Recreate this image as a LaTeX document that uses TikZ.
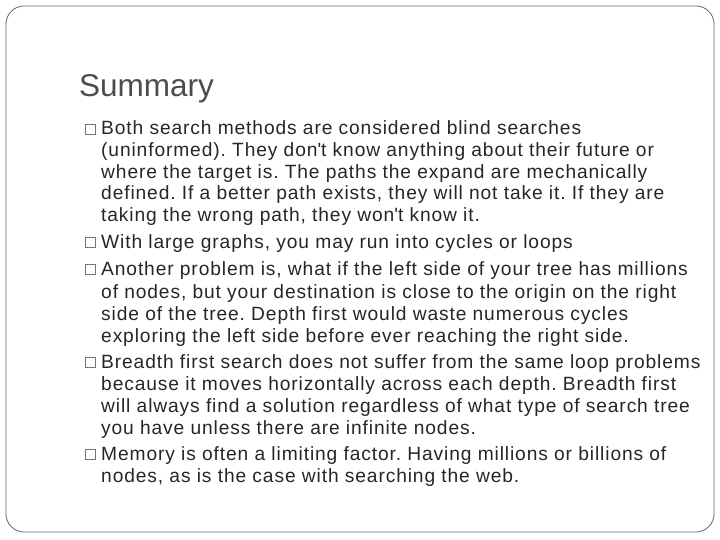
\documentclass[tikz,border=0pt]{standalone}
\usepackage{fontspec}
\setmainfont{Liberation Sans}
\newfontfamily\bodyfont[LetterSpace=4.6]{Liberation Sans}
\begin{document}
\frenchspacing
\begin{tikzpicture}[x=1pt,y=-1pt,
  ln/.style={anchor=base west,inner sep=0pt,font=\bodyfont\fontsize{19.2}{20}\selectfont,text=black!85},
  bx/.style={draw=black!55,line width=0.6pt,minimum size=10pt,inner sep=0pt}]
\useasboundingbox (0,0) rectangle (720,540);
\draw[black!60,line width=0.8pt,rounded corners=18pt] (6,6) rectangle (714,532);
\node[anchor=base west,inner sep=0pt,font=\fontsize{31.5}{32}\selectfont,text=black!70] (title) at (79,97) {Summary};
\foreach \y/\t [count=\i] in {
 135/{Both search methods are considered blind searches},
 157/{(uninformed). They don\textquotesingle t know anything about their future or},
 179/{where the target is. The paths the expand are mechanically},
 200/{defined. If a better path exists, they will not take it. If they are},
 222/{taking the wrong path, they won\textquotesingle t know it.},
 248/{With large graphs, you may run into cycles or loops},
 275/{Another problem is, what if the left side of your tree has millions},
 298/{of nodes, but your destination is close to the origin on the right},
 320/{side of the tree. Depth first would waste numerous cycles},
 342/{exploring the left side before ever reaching the right side.},
 368/{Breadth first search does not suffer from the same loop problems},
 390/{because it moves horizontally across each depth. Breadth first},
 412/{will always find a solution regardless of what type of search tree},
 434/{you have unless there are infinite nodes.},
 460/{Memory is often a limiting factor. Having millions or billions of},
 482/{nodes, as is the case with searching the web.}}
 {\node[ln] (l\i) at (101,\y) {\t};}
\foreach \y [count=\i] in {135,248,275,368,460}
 {\node[bx] (b\i) at (90,\y-6) {};}
\end{tikzpicture}
\end{document}
